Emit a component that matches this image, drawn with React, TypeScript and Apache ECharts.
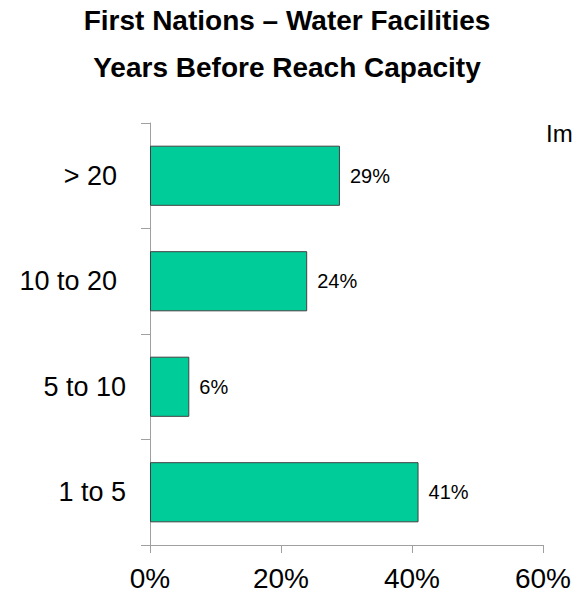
import React, { useEffect, useRef } from "react";
import * as echarts from "echarts";

const categories = ["1 to 5", "5 to 10", "10 to 20", "> 20"];
const values = [41, 6, 24, 29];
const xTicks = [0, 20, 40, 60];
const titleLines = ["First Nations \u2013 Water Facilities", "Years Before Reach Capacity"];
const cornerText = "Im";

export default function App() {
  const ref = useRef<HTMLDivElement>(null);
  useEffect(() => {
    if (!ref.current) return;
    const chart = echarts.init(ref.current, null, { renderer: "svg" });
    const font = "'Liberation Sans', Arial, sans-serif";
    const shifted = ["10 to 20", "> 20"];
    chart.setOption({
      animation: false,
      backgroundColor: "#ffffff",
      textStyle: { fontFamily: font },
      title: [
        {
          text: titleLines[0],
          left: "center",
          top: 1,
          textStyle: { fontSize: 28, fontWeight: "bold", color: "#000", fontFamily: font },
        },
        {
          text: titleLines[1],
          left: "center",
          top: 48,
          textStyle: { fontSize: 28, fontWeight: "bold", color: "#000", fontFamily: font },
        },
      ],
      graphic: [
        {
          type: "text",
          left: 546,
          top: 121,
          style: { text: cornerText, fontSize: 24, fill: "#000", fontFamily: font },
        },
      ],
      grid: { left: 150, right: 31, top: 123, bottom: 48, containLabel: false },
      xAxis: {
        type: "value",
        min: 0,
        max: 60,
        interval: 20,
        axisLine: { show: true, lineStyle: { color: "#a0a0a0", width: 1 } },
        axisTick: { show: true, length: 8, lineStyle: { color: "#a0a0a0" } },
        splitLine: { show: false },
        axisLabel: {
          formatter: (v: number) => (xTicks.includes(v) ? v + "%" : ""),
          fontSize: 28,
          color: "#000",
          margin: 19,
          fontFamily: font,
        },
      },
      yAxis: {
        type: "category",
        data: categories,
        axisLine: { show: true, lineStyle: { color: "#a0a0a0", width: 1 } },
        axisTick: { show: true, length: 9, lineStyle: { color: "#a0a0a0" } },
        axisLabel: {
          fontSize: 27,
          color: "#000",
          margin: 24,
          fontFamily: font,
          formatter: (v: string) => (shifted.includes(v) ? "{s|" + v + "}" : "{n|" + v + "}"),
          rich: {
            s: { fontSize: 27, color: "#000", fontFamily: font, padding: [0, 9, 0, 0] },
            n: { fontSize: 27, color: "#000", fontFamily: font },
          },
        },
      },
      series: [
        {
          type: "bar",
          data: values,
          barWidth: "57%",
          itemStyle: { color: "#00CC99", borderColor: "#404040", borderWidth: 1 },
          label: {
            show: true,
            position: "right",
            distance: 10,
            formatter: "{c}%",
            fontSize: 20,
            color: "#000",
            fontFamily: font,
          },
        },
      ],
    });
    return () => chart.dispose();
  }, []);
  return <div ref={ref} style={{ width: 574, height: 593, position: "absolute", left: 0, top: 0 }} />;
}
